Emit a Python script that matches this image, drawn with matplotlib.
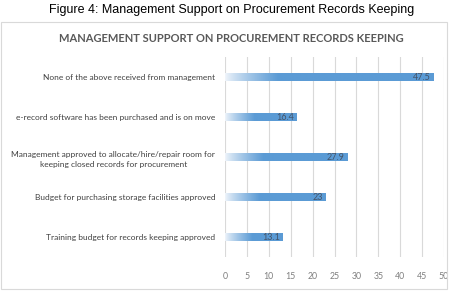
import matplotlib.pyplot as plt
import matplotlib.patches as patches
import numpy as np
from matplotlib.colors import to_rgb

categories = [
    'Training budget for records keeping approved',
    'Budget for purchasing storage facilities approved',
    'Management approved to allocate/hire/repair room for\nkeeping closed records for procurement',
    'e-record software has been purchased and is on move',
    'None of the above received from management',
]
values = [13.1, 23, 27.9, 16.4, 47.5]
value_labels = ['13.1', '23', '27.9', '16.4', '47.5']
xticks = list(range(0, 55, 5))

W, H = 465, 291
fig = plt.figure(figsize=(W / 100, H / 100), dpi=100)

# chart border
fig.patches.append(patches.Rectangle((1 / W, 1 - 289 / H), 446 / W, 267 / H,
                                     transform=fig.transFigure, fill=False,
                                     edgecolor='#D9D9D9', linewidth=0.8))

fig.text(232 / W, 1 - 10 / H, 'Figure 4: Management Support on Procurement Records Keeping',
         ha='center', va='center', fontsize=9, family='Liberation Sans', color='#000000')
fig.text(231 / W, 1 - 38 / H, 'MANAGEMENT SUPPORT ON PROCUREMENT RECORDS KEEPING',
         ha='center', va='center', fontsize=8.0, fontweight='bold', family='Lato',
         color='#595959')

ax = fig.add_axes([225 / W, 1 - 257 / H, 219 / W, 200 / H])
y = np.arange(len(values))
bars = ax.barh(y, values, height=0.22, facecolor='none', edgecolor='none')

blue = np.array(to_rgb('#5B9BD5'))
pale = np.array(to_rgb('#F2F6FB'))
for bar, v in zip(bars, values):
    n = 400
    xs = np.linspace(0, v, n)
    ramp = np.clip(xs / (4 + 0.17 * v), 0, 1) ** 0.8
    cols = pale[None, :] * (1 - ramp[:, None]) + blue[None, :] * ramp[:, None]
    img = cols[None, :, :]
    bx, by = bar.get_x(), bar.get_y()
    im = ax.imshow(img, extent=[bx, bx + bar.get_width(), by, by + bar.get_height()],
                   aspect='auto', zorder=2, interpolation='bilinear')
    im.set_clip_path(bar)

for bar, lab in zip(bars, value_labels):
    ax.text(bar.get_width() - 0.6, bar.get_y() + bar.get_height() / 2, lab,
            ha='right', va='center', fontsize=6.5, family='Lato', color='#44546A',
            zorder=3)

ax.set_xlim(0, 50)
ax.set_ylim(-0.5, len(values) - 0.5)
ax.set_xticks(xticks)
ax.set_xticklabels([str(t) for t in xticks], fontsize=6.3, family='Lato', color='#7F7F7F')
ax.set_yticks(y)
ax.set_yticklabels(categories, fontsize=6.0, family='Lato', color='#404040',
                   multialignment='center', linespacing=1.6)
ax.tick_params(axis='both', length=0)
ax.tick_params(axis='y', pad=7)
ax.tick_params(axis='x', pad=11)
ax.grid(axis='x', color='#D9D9D9', linewidth=0.8)
ax.set_axisbelow(True)
for s in ax.spines.values():
    s.set_visible(False)

fig.savefig('out.png', dpi=100, facecolor='white')
